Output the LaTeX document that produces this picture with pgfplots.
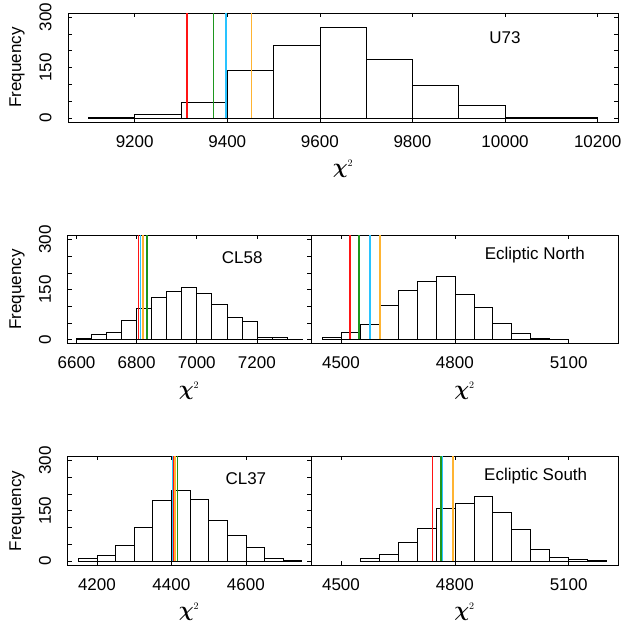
\documentclass[border=0pt]{standalone}
\usepackage{amsmath}
\usepackage{pgfplots}
\pgfplotsset{compat=1.18}
\usepackage{fontspec}
\setmainfont{Liberation Sans}
\definecolor{cRed}{RGB}{255,20,20}
\definecolor{cGreen}{RGB}{30,150,30}
\definecolor{cCyan}{RGB}{40,195,255}
\definecolor{cOrange}{RGB}{255,180,50}
\tikzset{ttl/.style={font=\fontsize{17}{18}\selectfont}}
\pgfplotsset{
  panel/.style={
    scale only axis, anchor=south west,
    ymin=-12, ymax=312,
    axis line style={line width=0.7pt},
    tick style={black, line width=0.6pt},
    tick align=inside,
    major tick length=4pt,
    ytick={0,50,...,300},
    yticklabels={0,,,150,,,300},
    yticklabel style={xshift=-13pt, rotate=90, anchor=south, font=\fontsize{17}{17}\selectfont},
    xticklabel style={font=\fontsize{17}{17}\selectfont, yshift=-10pt},
    /pgf/number format/assume math mode=true,
    /pgf/number format/1000 sep={},
    scaled x ticks=false,
    scaled y ticks=false,
  },
  rpanel/.style={panel, ytick=\empty},
  hbar/.style={ybar interval, draw=black, fill=white, line width=0.6pt},
  vl/.style={line width=1.5pt, mark=none},
}
\begin{document}
\begin{tikzpicture}
\useasboundingbox (0pt,0pt) rectangle (626pt,639pt);
% ---------- U73 ----------
\begin{axis}[panel, at={(68pt,517pt)}, width=550pt, height=109pt,
  xmin=9056, xmax=10244, xtick={9200,9400,...,10200}]
\addplot[hbar] coordinates {(9100,3)(9200,12)(9300,47)(9400,142)(9500,215)(9600,268)(9700,174)(9800,97)(9900,39)(10000,2)(10100,1)(10200,1)};
\addplot[vl,draw=cRed] coordinates {(9313,0)(9313,312)};
\addplot[vl,draw=cGreen] coordinates {(9370,0)(9370,312)};
\addplot[vl,draw=cCyan] coordinates {(9397,0)(9397,312)};
\addplot[vl,draw=cOrange] coordinates {(9452,0)(9452,312)};
\node[ttl] at (axis cs:10000,240) {U73};
\end{axis}
% ---------- CL58 ----------
\begin{axis}[panel, at={(67.5pt,295.5pt)}, width=243.5pt, height=108pt,
  xmin=6570, xmax=7380, xtick={6600,6800,7000,7200}]
\addplot[hbar] coordinates {(6600,5)(6650,15)(6700,23)(6750,58)(6800,94)(6850,128)(6900,145)(6950,156)(7000,138)(7050,106)(7100,67)(7150,55)(7200,6)(7250,6)(7300,2)(7350,2)};
\addplot[vl,draw=cRed] coordinates {(6807,0)(6807,312)};
\addplot[vl,draw=cCyan] coordinates {(6812,0)(6812,312)};
\addplot[vl,draw=cOrange] coordinates {(6821,0)(6821,312)};
\addplot[vl,draw=cGreen] coordinates {(6834,0)(6834,312)};
\node[ttl] at (axis cs:7151,245) {CL58};
\end{axis}
% ---------- Ecliptic North ----------
\begin{axis}[rpanel, at={(311pt,295.5pt)}, width=307pt, height=108pt,
  xmin=4421, xmax=5230, xtick={4500,4800,5100}]
\addplot[hbar] coordinates {(4450,6)(4500,21)(4550,45)(4600,104)(4650,147)(4700,176)(4750,189)(4800,137)(4850,98)(4900,50)(4950,18)(5000,5)(5050,2)(5100,2)};
\addplot[vl,draw=cRed] coordinates {(4524,0)(4524,312)};
\addplot[vl,draw=cGreen] coordinates {(4547,0)(4547,312)};
\addplot[vl,draw=cCyan] coordinates {(4576,0)(4576,312)};
\addplot[vl,draw=cOrange] coordinates {(4603,0)(4603,312)};
\node[ttl] at (axis cs:5011,253) {Ecliptic North};
\end{axis}
% ---------- CL37 ----------
\begin{axis}[panel, at={(67.5pt,74pt)}, width=243.5pt, height=108.5pt,
  xmin=4121, xmax=4775, xtick={4200,4400,4600}]
\addplot[hbar] coordinates {(4150,7)(4200,17)(4250,46)(4300,100)(4350,181)(4400,211)(4450,184)(4500,122)(4550,77)(4600,42)(4650,9)(4700,2)(4750,2)};
\addplot[vl,draw=cCyan] coordinates {(4404,0)(4404,312)};
\addplot[vl,draw=cRed] coordinates {(4407,0)(4407,312)};
\addplot[vl,draw=cOrange] coordinates {(4410,0)(4410,312)};
\addplot[vl,draw=cGreen] coordinates {(4416,0)(4416,312)};
\node[ttl] at (axis cs:4600,245) {CL37};
\end{axis}
% ---------- Ecliptic South ----------
\begin{axis}[rpanel, at={(311pt,74pt)}, width=307pt, height=108.5pt,
  xmin=4421, xmax=5230, xtick={4500,4800,5100}]
\addplot[hbar] coordinates {(4550,8)(4600,19)(4650,57)(4700,98)(4750,156)(4800,173)(4850,194)(4900,146)(4950,94)(5000,34)(5050,11)(5100,4)(5150,1)(5200,1)};
\addplot[vl,draw=cRed] coordinates {(4741,0)(4741,312)};
\addplot[vl,draw=cGreen] coordinates {(4764,0)(4764,312)};
\addplot[vl,draw=cCyan] coordinates {(4767,0)(4767,312)};
\addplot[vl,draw=cOrange] coordinates {(4795,0)(4795,312)};
\node[ttl] at (axis cs:5013,253) {Ecliptic South};
\end{axis}
% ---------- axis titles ----------
\node[rotate=90, font=\fontsize{17}{17}\selectfont] at (17pt,571.5pt) {Frequency};
\node[rotate=90, font=\fontsize{17}{17}\selectfont] at (17pt,349.5pt) {Frequency};
\node[rotate=90, font=\fontsize{17}{17}\selectfont] at (17pt,128pt) {Frequency};
\node at (343pt,470pt) {\fontsize{20}{20}\selectfont$\boldsymbol{\chi}^{\scriptscriptstyle 2}$};
\node at (189pt,248pt) {\fontsize{20}{20}\selectfont$\boldsymbol{\chi}^{\scriptscriptstyle 2}$};
\node at (464.5pt,248pt) {\fontsize{20}{20}\selectfont$\boldsymbol{\chi}^{\scriptscriptstyle 2}$};
\node at (189pt,27pt) {\fontsize{20}{20}\selectfont$\boldsymbol{\chi}^{\scriptscriptstyle 2}$};
\node at (464.5pt,27pt) {\fontsize{20}{20}\selectfont$\boldsymbol{\chi}^{\scriptscriptstyle 2}$};
\end{tikzpicture}
\end{document}
